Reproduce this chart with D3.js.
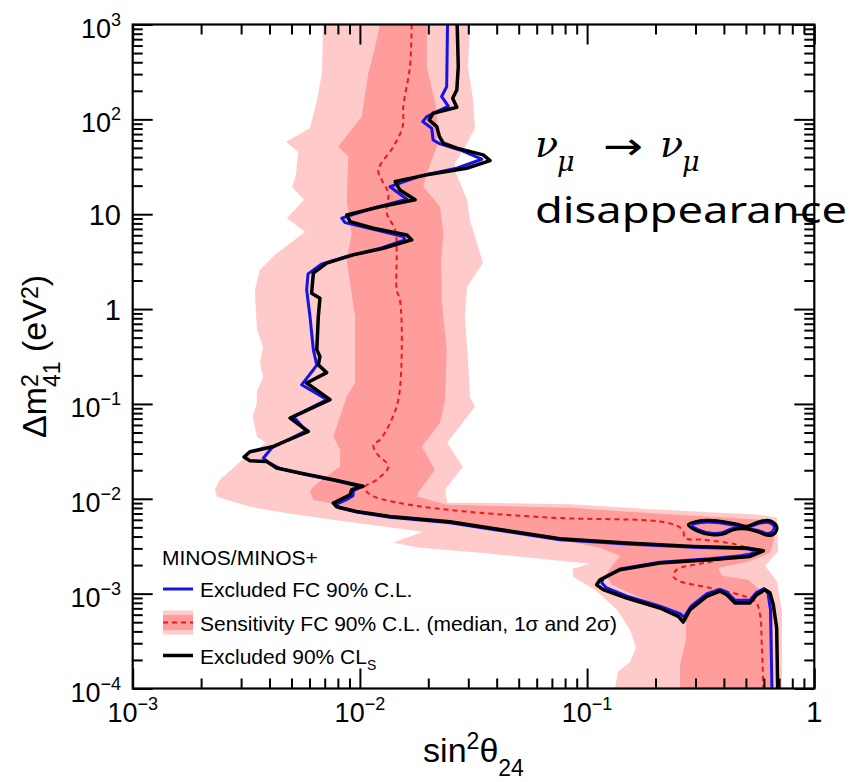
<!DOCTYPE html>
<html>
<head>
<meta charset="utf-8">
<script src="https://cdn.jsdelivr.net/npm/d3@7"></script>
<style>
  body { margin: 0; background: #fff; }
  svg { display: block; font-family: "Liberation Sans", Arial, sans-serif; }
</style>
</head>
<body>
<svg id="chart" width="854" height="782"></svg>
<script>
// ---- data: [sin^2(theta24), dm^2_41 (eV^2)] ----
const band2sigma = [[0.00688,1000],[0.00681,308],[0.00647,160],[0.00603,81.2],[0.00473,57.8],[0.00534,45.4],[0.00523,26],[0.00503,19.4],[0.00568,14.2],[0.00478,9.14],[0.00573,6.51],[0.00423,3.73],[0.00363,2.59],[0.00345,1.59],[0.00352,0.604],[0.00375,0.4],[0.00363,0.271],[0.00375,0.193],[0.00352,0.134],[0.00352,0.103],[0.00338,0.0731],[0.00352,0.045],[0.00386,0.0389],[0.00297,0.0246],[0.00242,0.0159],[0.0023,0.0125],[0.00235,0.0105],[0.00328,0.00824],[0.00493,0.00695],[0.00818,0.00587],[0.019,0.00449],[0.014,0.00344],[0.0184,0.00305],[0.0338,0.0027],[0.056,0.00239],[0.076,0.00222],[0.103,0.00207],[0.0867,0.00183],[0.0867,0.00151],[0.1083,0.0011],[0.1354,0.000677],[0.1545,0.000417],[0.1641,0.000269],[0.1545,0.000192],[0.1368,0.00015],[0.1327,0.0001],[0.721,0.0001],[0.721,0.000645],[0.685,0.00134],[0.607,0.00197],[0.692,0.00276],[0.685,0.00631],[0.577,0.00679],[0.209,0.00766],[0.0841,0.00875],[0.0305,0.00908],[0.0242,0.00908],[0.0237,0.0125],[0.0284,0.0218],[0.0242,0.0389],[0.0321,0.0932],[0.0305,0.119],[0.0299,0.292],[0.029,0.828],[0.0296,1.71],[0.0348,3.07],[0.0305,8.71],[0.0296,14.2],[0.0262,29.3],[0.0262,34.7],[0.029,51.2],[0.0321,81.2],[0.0315,160],[0.0299,357],[0.0305,1000]];

const band1sigma = [[0.01226,1000],[0.01186,687],[0.01089,306],[0.01018,107],[0.00803,51.6],[0.00889,40.5],[0.00875,14.15],[0.0092,6.31],[0.00875,3.3],[0.00952,0.834],[0.00952,0.1656],[0.00875,0.1197],[0.00764,0.0453],[0.00818,0.0329],[0.00818,0.0219],[0.00624,0.01348],[0.00603,0.01186],[0.00624,0.00977],[0.0076,0.00886],[0.01357,0.00646],[0.0374,0.00483],[0.076,0.0037],[0.114,0.00305],[0.1396,0.00251],[0.1287,0.00197],[0.1211,0.00158],[0.1287,0.001242],[0.1709,0.000906],[0.2317,0.000677],[0.2725,0.000506],[0.2725,0.000327],[0.2564,0.000178],[0.2564,0.0001],[0.658,0.0001],[0.658,0.000863],[0.577,0.0011],[0.511,0.001402],[0.392,0.001545],[0.377,0.001875],[0.511,0.00217],[0.638,0.0027],[0.6645,0.0037],[0.6645,0.00532],[0.577,0.00601],[0.209,0.00695],[0.0841,0.00804],[0.0242,0.00865],[0.018,0.0105],[0.018,0.0115],[0.0214,0.0202],[0.0187,0.0356],[0.0225,0.0628],[0.0237,0.1105],[0.0241,0.3716],[0.0229,1.25],[0.0228,3.3],[0.0233,6.31],[0.0225,12.03],[0.019,19.54],[0.0197,27.0],[0.0218,51.6],[0.0218,125.7],[0.0197,359],[0.0197,1000]];

const medianSens = [[0.0169,1000],[0.0166,359],[0.01552,136],[0.01543,83.8],[0.01403,51.6],[0.01205,29.3],[0.01247,23.0],[0.01334,16.7],[0.01312,10.3],[0.0143,6.83],[0.01452,3.88],[0.01452,1.59],[0.0150,1.25],[0.01528,0.372],[0.01476,0.111],[0.01357,0.0628],[0.01226,0.0419],[0.01146,0.0371],[0.01189,0.0298],[0.01334,0.0219],[0.01186,0.0159],[0.01053,0.0134],[0.01071,0.0119],[0.01146,0.0106],[0.015,0.00901],[0.021,0.00798],[0.0338,0.00712],[0.076,0.00626],[0.209,0.00577],[0.252,0.00511],[0.265,0.00452],[0.2697,0.00385],[0.3246,0.0037],[0.4555,0.00328],[0.532,0.00283],[0.471,0.00251],[0.3246,0.0021],[0.248,0.00179],[0.2395,0.00152],[0.2564,0.00135],[0.347,0.00115],[0.548,0.000828],[0.577,0.000599],[0.587,0.00029],[0.597,0.0001]];

const excludedFC = [[0.0243,1000],[0.0241,221],[0.0229,174],[0.0245,138],[0.0197,107],[0.0189,94.6],[0.0207,80.6],[0.0210,60.7],[0.0225,55.1],[0.0276,47.6],[0.0344,38.0],[0.0267,30.5],[0.0184,25.3],[0.01357,19.5],[0.0161,14.4],[0.01146,11.6],[0.00832,9.08],[0.0086,8.16],[0.01146,6.95],[0.01552,5.81],[0.0158,5.36],[0.01226,4.36],[0.00905,3.68],[0.00681,3.0],[0.00591,2.35],[0.00583,1.59],[0.00603,0.834],[0.00624,0.372],[0.00646,0.258],[0.00624,0.229],[0.00554,0.159],[0.00717,0.111],[0.00509,0.0737],[0.00579,0.0521],[0.0041,0.0345],[0.00376,0.0269],[0.00394,0.0243],[0.00445,0.0208],[0.00556,0.0184],[0.00769,0.0157],[0.0101,0.0134],[0.00937,0.0122],[0.00932,0.0108],[0.00886,0.0100],[0.00785,0.00875],[0.00809,0.00804],[0.00981,0.00721],[0.01357,0.0064],[0.0249,0.00559],[0.0374,0.0048],[0.076,0.0037],[0.1494,0.00333],[0.293,0.00308],[0.504,0.00297],[0.571,0.0028],[0.5055,0.00254],[0.347,0.00233],[0.209,0.00214],[0.1396,0.00182],[0.1175,0.00144],[0.116,0.0013],[0.1211,0.00116],[0.1498,0.00094],[0.209,0.000737],[0.2564,0.000614],[0.267,0.000564],[0.2866,0.000737],[0.337,0.000998],[0.3845,0.00111],[0.412,0.00104],[0.448,0.000852],[0.521,0.000852],[0.554,0.00102],[0.601,0.00113],[0.626,0.000998],[0.6415,0.000677],[0.651,0.0001]];

const excludedCLs = [[0.0268,1000],[0.0271,359],[0.0267,204],[0.0256,167],[0.0267,134],[0.0210,116],[0.0202,98.6],[0.0218,83.8],[0.0224,65.7],[0.0233,56.0],[0.0267,49.6],[0.0349,42.2],[0.0374,36.7],[0.0295,30.5],[0.0197,26.0],[0.0143,22.1],[0.0150,18.0],[0.0175,14.2],[0.01226,12.0],[0.00875,9.83],[0.00905,8.36],[0.01146,7.12],[0.0161,6.05],[0.0169,5.36],[0.01268,4.38],[0.00935,3.73],[0.00714,3.05],[0.00624,2.39],[0.00613,1.47],[0.00667,1.30],[0.00656,0.834],[0.00646,0.372],[0.00667,0.316],[0.00656,0.258],[0.00714,0.214],[0.00583,0.166],[0.00739,0.111],[0.00493,0.0709],[0.00593,0.0512],[0.00416,0.0356],[0.00328,0.0313],[0.00309,0.0275],[0.00328,0.0252],[0.00389,0.0247],[0.00430,0.0211],[0.00545,0.0187],[0.00764,0.0159],[0.01032,0.01355],[0.0092,0.01245],[0.00905,0.01102],[0.00869,0.0105],[0.00764,0.00901],[0.0079,0.00824],[0.00968,0.00735],[0.01357,0.00651],[0.0249,0.00573],[0.0374,0.00491],[0.0760,0.00379],[0.1494,0.00342],[0.293,0.00315],[0.504,0.00303],[0.597,0.00283],[0.521,0.00247],[0.347,0.00228],[0.209,0.0021],[0.1396,0.00179],[0.114,0.0014],[0.1102,0.00124],[0.1178,0.0011],[0.1494,0.000899],[0.209,0.000706],[0.252,0.000575],[0.265,0.000502],[0.284,0.000677],[0.336,0.000935],[0.3845,0.00106],[0.412,0.000974],[0.448,0.000797],[0.521,0.000797],[0.558,0.000974],[0.607,0.0011],[0.638,0.00102],[0.660,0.000764],[0.683,0.000434],[0.690,0.0001]];

const islandCLs = [[0.279,0.00532],[0.314,0.00587],[0.372,0.00587],[0.4555,0.00541],[0.504,0.00511],[0.577,0.00577],[0.638,0.00587],[0.683,0.00511],[0.671,0.00435],[0.627,0.00411],[0.567,0.00446],[0.504,0.0048],[0.44,0.00472],[0.398,0.00425],[0.353,0.00418],[0.304,0.0046]];
const islandFC = [[0.2895,0.00526],[0.317,0.00559],[0.372,0.00559],[0.452,0.0052],[0.504,0.00495],[0.577,0.00552],[0.632,0.00559],[0.6645,0.00507],[0.651,0.00449],[0.619,0.00433],[0.565,0.00466],[0.4387,0.00489],[0.396,0.00444],[0.353,0.00435],[0.308,0.00477]];

const xTickValues = [1e-3, 1e-2, 1e-1, 1];
const xTickLabels = [["10", "-3"], ["10", "-2"], ["10", "-1"], ["1", ""]];
const yTickValues = [1e-4, 1e-3, 1e-2, 1e-1, 1, 10, 100, 1000];
const yTickLabels = [["10", "-4"], ["10", "-3"], ["10", "-2"], ["10", "-1"], ["1", ""], ["10", ""], ["10", "2"], ["10", "3"]];
const legendHeader = "MINOS/MINOS+";
const legendItems = ["Excluded FC 90% C.L.", "Sensitivity FC 90% C.L. (median, 1\u03C3 and 2\u03C3)", "Excluded 90% CL"];

// ---- layout ----
const plot = {left: 132.7, right: 814.3, top: 24.5, bottom: 688.5};
const col = {light: "#ffcaca", dark: "#ff9c9c", red: "#f01818", blue: "#1414e6", black: "#000"};

const svg = d3.select("#chart");

const x = d3.scaleLog().domain([1e-3, 1]).range([plot.left, plot.right]);
const y = d3.scaleLog().domain([1e-4, 1e3]).range([plot.bottom, plot.top]);

svg.append("clipPath").attr("id", "clip")
  .append("rect")
  .attr("x", plot.left).attr("y", plot.top)
  .attr("width", plot.right - plot.left).attr("height", plot.bottom - plot.top);

const area = svg.append("g").attr("clip-path", "url(#clip)");

const poly = d3.line().x(d => x(d[0])).y(d => y(d[1])).curve(d3.curveLinearClosed);
const contour = d3.line().x(d => x(d[0])).y(d => y(d[1])).curve(d3.curveLinear);
const smooth = d3.line().x(d => x(d[0])).y(d => y(d[1])).curve(d3.curveCatmullRom.alpha(0.5));
const smoothClosed = d3.line().x(d => x(d[0])).y(d => y(d[1])).curve(d3.curveCatmullRomClosed.alpha(0.5));

area.append("path").attr("d", poly(band2sigma)).attr("fill", col.light);
area.append("path").attr("d", poly(band1sigma)).attr("fill", col.dark);

area.append("path").attr("d", smooth(medianSens))
  .attr("fill", "none").attr("stroke", col.red).attr("stroke-width", 2).attr("stroke-dasharray", "5,4");

area.append("path").attr("d", contour(excludedFC))
  .attr("fill", "none").attr("stroke", col.blue).attr("stroke-width", 3).attr("stroke-linejoin", "round");
area.append("path").attr("d", smoothClosed(islandFC))
  .attr("fill", "none").attr("stroke", col.blue).attr("stroke-width", 2.5);

area.append("path").attr("d", contour(excludedCLs))
  .attr("fill", "none").attr("stroke", col.black).attr("stroke-width", 3.5).attr("stroke-linejoin", "round");
area.append("path").attr("d", smoothClosed(islandCLs))
  .attr("fill", "none").attr("stroke", col.black).attr("stroke-width", 3.2);

// ---- ticks (ROOT style, inside, on all four sides) ----
const minorX = [], minorY = [];
for (let e = -3; e < 0; e++) for (let m = 2; m <= 9; m++) minorX.push(m * Math.pow(10, e));
for (let e = -4; e < 3; e++) for (let m = 2; m <= 9; m++) minorY.push(m * Math.pow(10, e));

function tickSet(axisFn, scale, vals, size, tx, ty) {
  svg.append("g").attr("transform", `translate(${tx},${ty})`)
    .call(axisFn(scale).tickValues(vals).tickSize(size).tickFormat(""))
    .call(g => g.select(".domain").remove())
    .selectAll("line").attr("stroke", "#000").attr("stroke-width", 2);
}
tickSet(d3.axisTop, x, xTickValues, 20, 0, plot.bottom);
tickSet(d3.axisTop, x, minorX, 10, 0, plot.bottom);
tickSet(d3.axisBottom, x, xTickValues, 20, 0, plot.top);
tickSet(d3.axisBottom, x, minorX, 10, 0, plot.top);
tickSet(d3.axisRight, y, yTickValues, 20, plot.left, 0);
tickSet(d3.axisRight, y, minorY, 10, plot.left, 0);
tickSet(d3.axisLeft, y, yTickValues, 20, plot.right, 0);
tickSet(d3.axisLeft, y, minorY, 10, plot.right, 0);

svg.append("rect")
  .attr("x", plot.left).attr("y", plot.top)
  .attr("width", plot.right - plot.left).attr("height", plot.bottom - plot.top)
  .attr("fill", "none").attr("stroke", "#000").attr("stroke-width", 2.2);

// ---- tick labels ----
function powLabel(base, exp, px, py, anchor) {
  const size = exp ? 27 : 29;
  const t = svg.append("text").attr("x", px).attr("y", py)
    .attr("text-anchor", anchor).style("font-size", size + "px");
  t.append("tspan").text(base);
  if (exp) t.append("tspan").attr("dy", -12).style("font-size", "18px").text(exp.replace("-", "\u2212"));
  return t;
}
xTickValues.forEach((v, i) => powLabel(xTickLabels[i][0], xTickLabels[i][1], x(v), 722, "middle"));
yTickValues.forEach((v, i) => powLabel(yTickLabels[i][0], yTickLabels[i][1], 121, y(v) + (yTickLabels[i][1] ? 13 : 11), "end"));

// ---- axis titles ----
const xt = svg.append("text").attr("x", (plot.left + plot.right) / 2).attr("y", 762)
  .attr("text-anchor", "middle").style("font-size", "34px");
xt.append("tspan").text("sin");
xt.append("tspan").attr("dy", -13).style("font-size", "23px").text("2");
xt.append("tspan").attr("dy", 13).text("\u03B8");
xt.append("tspan").attr("dy", 14).style("font-size", "23px").text("24");

const yt = svg.append("text")
  .attr("transform", `translate(46,${(plot.top + plot.bottom) / 2}) rotate(-90)`)
  .attr("text-anchor", "middle").style("font-size", "34px");
yt.append("tspan").text("\u0394m");
yt.append("tspan").attr("dy", -8).style("font-size", "23px").text("2");
yt.append("tspan").attr("dx", -12.8).attr("dy", 22).style("font-size", "23px").text("41");
yt.append("tspan").attr("dy", -14).text(" (eV");
yt.append("tspan").attr("dy", -8).style("font-size", "23px").text("2");
yt.append("tspan").attr("dy", 8).text(")");

// ---- legend ----
const lg = svg.append("g").style("font-size", "21px");
lg.append("text").attr("x", 162).attr("y", 565).text(legendHeader);
const rowY = [589, 622.5, 655.5];
lg.append("line").attr("x1", 163).attr("x2", 193).attr("y1", rowY[0]).attr("y2", rowY[0])
  .attr("stroke", col.blue).attr("stroke-width", 3);
lg.append("rect").attr("x", 163).attr("y", rowY[1] - 12).attr("width", 30).attr("height", 24).attr("fill", col.light);
lg.append("rect").attr("x", 163).attr("y", rowY[1] - 7.5).attr("width", 30).attr("height", 15).attr("fill", col.dark);
lg.append("line").attr("x1", 163).attr("x2", 193).attr("y1", rowY[1]).attr("y2", rowY[1])
  .attr("stroke", col.red).attr("stroke-width", 2).attr("stroke-dasharray", "5,4");
lg.append("line").attr("x1", 163).attr("x2", 193).attr("y1", rowY[2]).attr("y2", rowY[2])
  .attr("stroke", col.black).attr("stroke-width", 3.5);
legendItems.forEach((s, i) => {
  const t = lg.append("text").attr("x", 200).attr("y", rowY[i] + 8).text(s);
  if (i === 2) t.append("tspan").attr("dy", 6).style("font-size", "14px").text("S");
});

// ---- annotation ----
const ann = svg.append("g");
const nuFont = "'DejaVu Serif', 'Liberation Serif', serif";
[535, 660].forEach(x0 => {
  ann.append("text").attr("x", x0).attr("y", 157).style("font-family", nuFont)
    .style("font-style", "italic").style("font-size", "38px").text("\u03BD");
  ann.append("text").attr("x", x0 + 22).attr("y", 171).style("font-family", nuFont)
    .style("font-style", "italic").style("font-size", "27px").text("\u03BC");
});
ann.append("text").attr("x", 603).attr("y", 159).style("font-family", "'DejaVu Sans', sans-serif")
  .style("font-size", "38px").attr("textLength", 40).attr("lengthAdjust", "spacingAndGlyphs").text("\u2192");
ann.append("text").attr("x", 535).attr("y", 223).style("font-family", "'Noto Sans', sans-serif")
  .style("font-size", "36px").attr("textLength", 312).attr("lengthAdjust", "spacingAndGlyphs").text("disappearance");
</script>
</body>
</html>
